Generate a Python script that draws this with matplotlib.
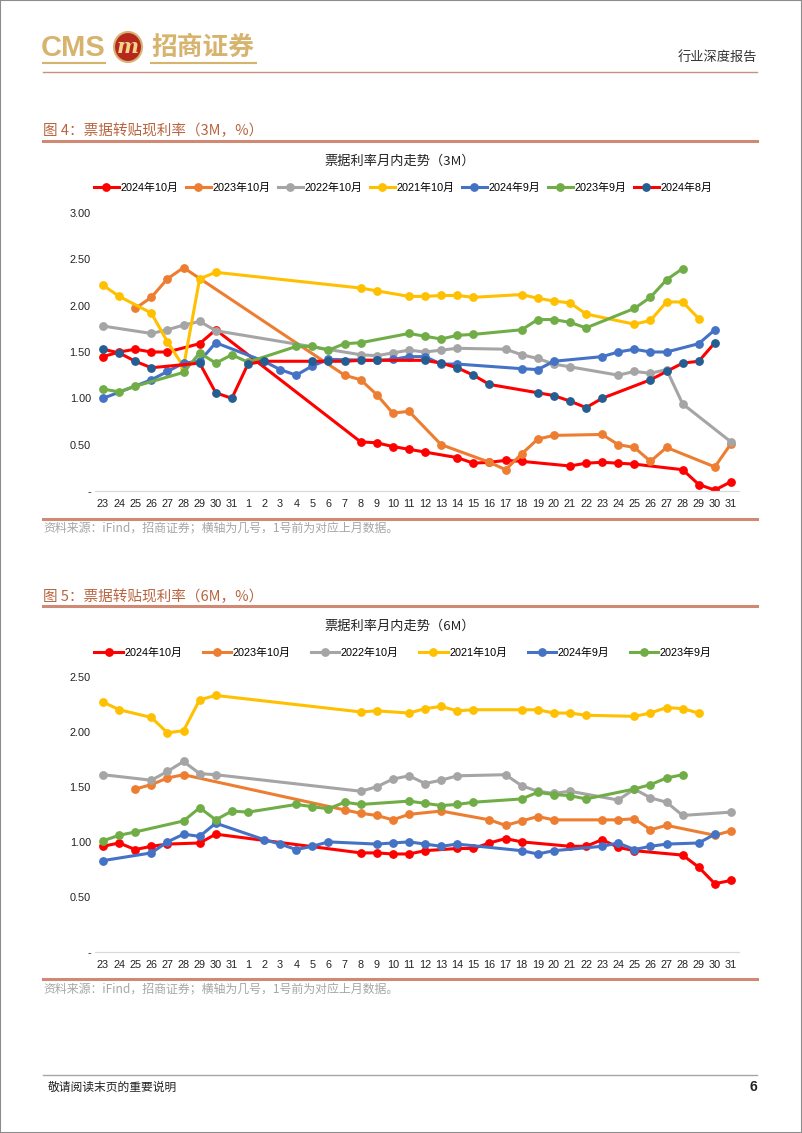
import matplotlib
matplotlib.use("Agg")
import matplotlib.pyplot as plt
from matplotlib.lines import Line2D
from matplotlib.patches import Ellipse, Rectangle

plt.rcParams["font.family"] = ["Liberation Sans", "Noto Sans CJK SC"]

W, H = 802, 1133

# x axis: 23..31 of the previous month, then 1..31 of the month
x_labels = [str(d) for d in range(23, 32)] + [str(d) for d in range(1, 32)]

# negative day = previous month
oct24_days = [-23, -24, -25, -26, -27, -29, -30,
              8, 9, 10, 11, 12, 14, 15, 16, 17, 18, 21, 22, 23, 24, 25, 28, 29, 30, 31]
oct23_days = [-25, -26, -27, -28,
              7, 8, 9, 10, 11, 13, 16, 17, 18, 19, 20, 23, 24, 25, 26, 27, 30, 31]
oct22_days = [-23, -26, -27, -28, -29, -30,
              8, 9, 10, 11, 12, 13, 14, 17, 18, 19, 20, 21, 24, 25, 26, 27, 28, 31]
oct21_days = [-23, -24, -26, -27, -28, -29, -30,
              8, 9, 11, 12, 13, 14, 15, 18, 19, 20, 21, 22, 25, 26, 27, 28, 29]
sep24_days = [-23, -26, -27, -28, -29, -30,
              2, 3, 4, 5, 6, 9, 10, 11, 12, 13, 14, 18, 19, 20, 23, 24, 25, 26, 27, 29, 30]
sep23_days = [-23, -24, -25, -28, -29, -30, -31,
              1, 4, 5, 6, 7, 8, 11, 12, 13, 14, 15, 18, 19, 20, 21, 22, 25, 26, 27, 28]
aug24_days = [-23, -24, -25, -26, -29, -30, -31,
              1, 2, 5, 6, 7, 8, 9, 12, 13, 14, 15, 16, 19, 20, 21, 22, 23, 26, 27, 28, 29, 30]

# 3M rates
oct24_3m = [1.45, 1.50, 1.53, 1.50, 1.50, 1.59, 1.74,
            0.53, 0.52, 0.48, 0.45, 0.42, 0.36, 0.30, 0.31, 0.33, 0.32, 0.27, 0.30, 0.31,
            0.30, 0.29, 0.23, 0.07, 0.01, 0.10]
oct23_3m = [1.97, 2.09, 2.29, 2.41,
            1.25, 1.20, 1.04, 0.84, 0.86, 0.50, 0.31, 0.23, 0.40, 0.56, 0.60, 0.61, 0.50,
            0.47, 0.32, 0.47, 0.26, 0.51]
oct22_3m = [1.78, 1.70, 1.74, 1.79, 1.83, 1.73,
            1.47, 1.46, 1.49, 1.52, 1.50, 1.52, 1.54, 1.53, 1.47, 1.43, 1.37, 1.34, 1.25,
            1.29, 1.27, 1.31, 0.94, 0.53]
oct21_3m = [2.22, 2.10, 1.92, 1.61, 1.34, 2.29, 2.36,
            2.19, 2.16, 2.10, 2.10, 2.11, 2.11, 2.09, 2.12, 2.08, 2.05, 2.03, 1.91, 1.80,
            1.84, 2.04, 2.04, 1.86]
sep24_3m = [1.00, 1.20, 1.29, 1.38, 1.40, 1.60,
            1.40, 1.31, 1.25, 1.35, 1.42, 1.41, 1.42, 1.45, 1.45, 1.37, 1.37, 1.32, 1.31,
            1.40, 1.45, 1.50, 1.53, 1.50, 1.50, 1.59, 1.74]
sep23_3m = [1.10, 1.07, 1.13, 1.28, 1.49, 1.38, 1.47,
            1.39, 1.56, 1.56, 1.52, 1.59, 1.60, 1.70, 1.67, 1.64, 1.68, 1.69, 1.74, 1.85,
            1.85, 1.82, 1.76, 1.97, 2.09, 2.28, 2.40]
aug24_3m = [1.53, 1.49, 1.40, 1.33, 1.38, 1.06, 1.00,
            1.37, 1.40, 1.40, 1.40, 1.40, 1.41, 1.41, 1.41, 1.38, 1.33, 1.25, 1.15, 1.06,
            1.03, 0.97, 0.90, 1.00, 1.20, 1.29, 1.38, 1.40, 1.60]

# 6M rates
oct24_6m = [0.96, 0.99, 0.93, 0.96, 0.98, 0.99, 1.07,
            0.90, 0.90, 0.89, 0.89, 0.92, 0.94, 0.94, 0.99, 1.03, 1.00, 0.96, 0.96, 1.02,
            0.95, 0.92, 0.88, 0.77, 0.62, 0.65]
oct23_6m = [1.48, 1.52, 1.58, 1.61,
            1.29, 1.26, 1.24, 1.20, 1.25, 1.28, 1.20, 1.15, 1.19, 1.23, 1.20, 1.20, 1.20,
            1.21, 1.11, 1.15, 1.06, 1.10]
oct22_6m = [1.61, 1.56, 1.64, 1.73, 1.62, 1.61,
            1.46, 1.50, 1.57, 1.60, 1.53, 1.56, 1.60, 1.61, 1.51, 1.46, 1.44, 1.46, 1.38,
            1.48, 1.40, 1.36, 1.24, 1.27]
oct21_6m = [2.27, 2.20, 2.13, 1.99, 2.01, 2.29, 2.33,
            2.18, 2.19, 2.17, 2.21, 2.23, 2.19, 2.20, 2.20, 2.20, 2.17, 2.17, 2.15, 2.14,
            2.17, 2.22, 2.21, 2.17]
sep24_6m = [0.83, 0.90, 1.00, 1.07, 1.05, 1.17,
            1.02, 0.98, 0.93, 0.96, 1.00, 0.98, 0.99, 1.00, 0.98, 0.96, 0.98, 0.92, 0.89,
            0.92, 0.96, 0.99, 0.93, 0.96, 0.98, 0.99, 1.07]
sep23_6m = [1.01, 1.06, 1.09, 1.19, 1.31, 1.20, 1.28,
            1.27, 1.34, 1.32, 1.30, 1.36, 1.34, 1.37, 1.35, 1.33, 1.34, 1.36, 1.39, 1.45,
            1.43, 1.42, 1.39, 1.48, 1.52, 1.58, 1.61]

labels = ["2024年10月", "2023年10月", "2022年10月", "2021年10月", "2024年9月", "2023年9月", "2024年8月"]
colors = ["#FF0000", "#ED7D31", "#A5A5A5", "#FFC000", "#4472C4", "#70AD47", "#FF0000"]
marker_colors = ["#FF0000", "#ED7D31", "#A5A5A5", "#FFC000", "#4472C4", "#70AD47", "#255E91"]
ticks_3m = [0, 0.5, 1.0, 1.5, 2.0, 2.5, 3.0]
ticks_6m = [0, 0.5, 1.0, 1.5, 2.0, 2.5]

CN = ["Noto Sans CJK SC", "DejaVu Sans"]
TITLE_C = "#B8643E"
LINE_C = "#D08A74"


def xpos(d):
    return -d - 23 if d < 0 else d + 8


def fx(x):
    return x / W


def fy(y):
    return 1 - y / H


def hline(fig, x0, x1, y, color, lw):
    fig.add_artist(Line2D([fx(x0), fx(x1)], [fy(y), fy(y)], color=color, lw=lw))


def panel(fig, top, bottom, day_lists, value_lists, yticks):
    ax = fig.add_axes([fx(95), fy(bottom), fx(739) - fx(95), fy(top) - fy(bottom)])
    handles = []
    for i, (days, vals) in enumerate(zip(day_lists, value_lists)):
        (ln,) = ax.plot([xpos(d) for d in days], vals, color=colors[i], lw=2.2,
                        marker="o", ms=5.3, mfc=marker_colors[i], mec=marker_colors[i],
                        label=labels[i], solid_joinstyle="round")
        handles.append(ln)
    ax.set_xlim(-0.5, 39.5)
    ax.set_ylim(0, yticks[-1])
    ax.set_xticks(range(len(x_labels)))
    ax.set_xticklabels(x_labels)
    ax.set_yticks(yticks)
    ax.set_yticklabels(["-"] + [f"{t:.2f}" for t in yticks[1:]])
    ax.tick_params(length=0, labelsize=7.8, colors="#222222")
    ax.tick_params(axis="x", pad=5.5)
    ax.tick_params(axis="y", pad=3)
    for s in ["top", "right", "left"]:
        ax.spines[s].set_visible(False)
    ax.spines["bottom"].set_color("#D9D9D9")
    ax.spines["bottom"].set_linewidth(0.9)
    ax.patch.set_alpha(0)
    return handles


fig = plt.figure(figsize=(W / 100, H / 100), dpi=100)

# page border
fig.add_artist(Rectangle((0, 0), 1, 1, fill=False, edgecolor="#8C8C8C", lw=1.5,
                         transform=fig.transFigure))

# header logo
gold = "#D7B46E"
fig.text(fx(41), fy(48), "CMS", fontsize=21, color=gold, va="center", ha="left",
         family=["Liberation Sans Narrow", "Liberation Sans"], weight="bold")
fig.add_artist(Ellipse((fx(128), fy(47)), 28 / W, 30 / H, facecolor="#B4281E",
                       edgecolor=gold, lw=1.5))
fig.text(fx(128), fy(47), "m", fontsize=15, color="#F2D48A", ha="center", va="center",
         style="italic", weight="bold", family=["DejaVu Serif"])
fig.text(fx(151), fy(47), "招商证券", fontsize=18.5, color=gold, ha="left", va="center",
         weight="bold", family=CN)
hline(fig, 43, 105, 63, gold, 1.5)
hline(fig, 151, 256, 63, gold, 1.5)
fig.text(fx(757), fy(57), "行业深度报告", fontsize=9.5, color="#333333", ha="right",
         va="center", family=CN)
hline(fig, 43, 757, 72, "#C9907E", 1.0)

# figure 4
fig.text(fx(43), fy(131), "图 4：票据转贴现利率（3M，%）", fontsize=10.5, color=TITLE_C,
         ha="left", va="center", family=CN)
hline(fig, 43, 757, 141, LINE_C, 2.2)
fig.text(fx(400), fy(161), "票据利率月内走势（3M）", fontsize=9.5, color="#222222",
         ha="center", va="center", family=CN)
h3 = panel(fig, 213, 491,
           [oct24_days, oct23_days, oct22_days, oct21_days, sep24_days, sep23_days, aug24_days],
           [oct24_3m, oct23_3m, oct22_3m, oct21_3m, sep24_3m, sep23_3m, aug24_3m],
           ticks_3m)
fig.legend(handles=h3, loc="center", bbox_to_anchor=(fx(403), fy(188)), ncol=7,
           frameon=False, fontsize=7.8, handlelength=2.3, handletextpad=0.15,
           columnspacing=0.7, borderaxespad=0)
hline(fig, 43, 757, 519, LINE_C, 2.2)
fig.text(fx(43), fy(529), "资料来源：iFind，招商证券；横轴为几号，1号前为对应上月数据。",
         fontsize=8.6, color="#A6A6A6", ha="left", va="center", family=CN)

# figure 5
fig.text(fx(43), fy(597), "图 5：票据转贴现利率（6M，%）", fontsize=10.5, color=TITLE_C,
         ha="left", va="center", family=CN)
hline(fig, 43, 757, 606, LINE_C, 2.2)
fig.text(fx(400), fy(626), "票据利率月内走势（6M）", fontsize=9.5, color="#222222",
         ha="center", va="center", family=CN)
h6 = panel(fig, 676.7, 952,
           [oct24_days, oct23_days, oct22_days, oct21_days, sep24_days, sep23_days],
           [oct24_6m, oct23_6m, oct22_6m, oct21_6m, sep24_6m, sep23_6m],
           ticks_6m)
fig.legend(handles=h6, loc="center", bbox_to_anchor=(fx(403), fy(653)), ncol=6,
           frameon=False, fontsize=7.8, handlelength=2.6, handletextpad=0.15,
           columnspacing=1.9, borderaxespad=0)
hline(fig, 43, 757, 979, LINE_C, 2.2)
fig.text(fx(43), fy(990), "资料来源：iFind，招商证券；横轴为几号，1号前为对应上月数据。",
         fontsize=8.6, color="#A6A6A6", ha="left", va="center", family=CN)

# footer
hline(fig, 43, 757, 1075, "#A6A6A6", 1.0)
fig.text(fx(48), fy(1087), "敬请阅读末页的重要说明", fontsize=8.5, color="#222222",
         ha="left", va="center", family=CN)
fig.text(fx(757), fy(1087), "6", fontsize=10, color="#222222", ha="right", va="center",
         weight="bold")

fig.savefig("out.png", dpi=100)
